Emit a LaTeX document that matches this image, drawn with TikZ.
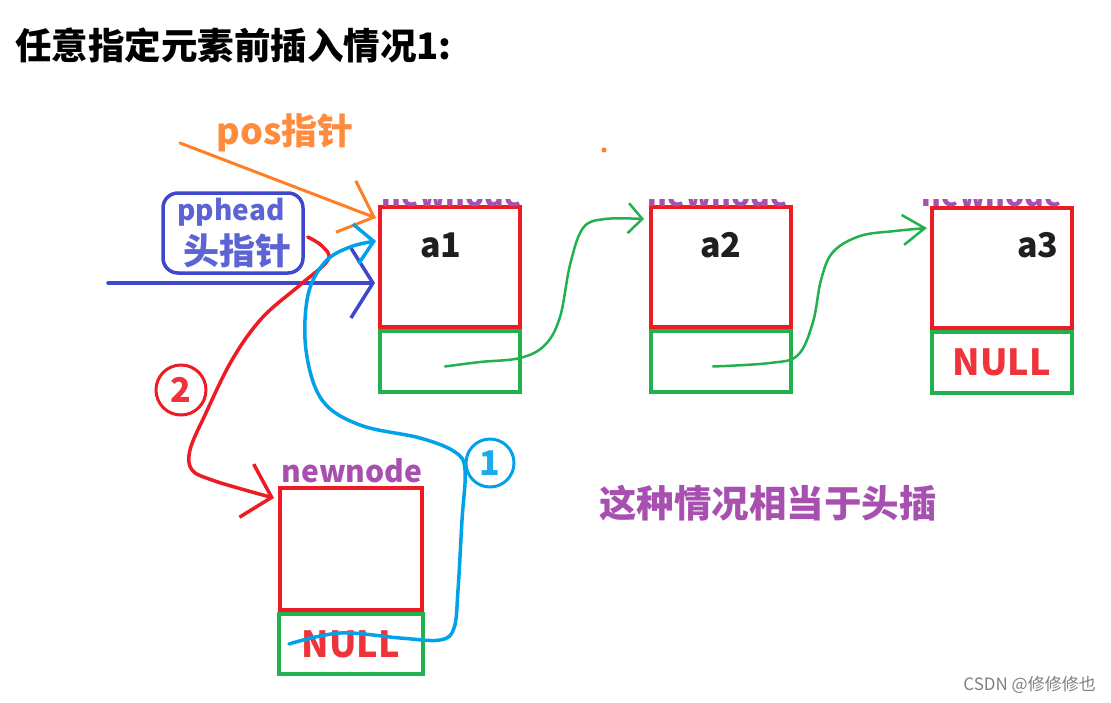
\documentclass[tikz,border=0pt]{standalone}
\usepackage{fontspec}
\newfontfamily\hei{Noto Sans CJK SC}
\usetikzlibrary{arrows.meta,calc}
\definecolor{pred}{RGB}{237,28,36}
\definecolor{pgreen}{RGB}{34,177,76}
\definecolor{pblue}{RGB}{63,72,204}
\definecolor{pcyan}{RGB}{0,162,232}
\definecolor{porange}{RGB}{255,127,39}
\definecolor{ppurple}{RGB}{168,80,176}
\tikzset{every picture/.style = {x=1pt, y=-1pt}}
\tikzset{datum/.style = {draw=pred, line width=4pt, minimum width=140pt, minimum height=120pt, inner sep=0}}
\tikzset{nxt/.style = {draw=pgreen, line width=4pt, minimum width=140pt, minimum height=61pt, inner sep=0, anchor=north, text=pred!90!white, font=\hei\bfseries\fontsize{36}{40}\selectfont}}
\tikzset{val/.style = {inner sep=0, text=black!88, font=\hei\bfseries\fontsize{34}{40}\selectfont}}
\tikzset{nlab/.style = {inner sep=0, anchor=base, text=ppurple, font=\hei\bfseries\fontsize{30}{34}\selectfont}}
\tikzset{link/.style = {draw=pgreen, line width=2.5pt, line cap=round}}
\tikzset{stepmark/.style = {circle, line width=3pt, minimum size=50pt, inner sep=0, font=\hei\bfseries\fontsize{34}{40}\selectfont}}

\begin{document}
\begin{tikzpicture}
  \useasboundingbox[fill=white] (0,0) rectangle (1111,702);
  \node[anchor=west, inner sep=0, font=\hei\bfseries\fontsize{36.5}{40}\selectfont] (title) at (15,45) {任意指定元素前插入情况1:};

  % the list a1 -> a2 -> a3
  \node[datum] (a1) at (450,267) {};
  \node[datum] (a2) at (721,267) {};
  \node[datum] (a3) at (1002,268) {};
  \foreach \n/\x in {1/452, 2/718, 3/992} {
    \begin{scope}
      \clip (\x-70,199.5) rectangle (\x+70,206);
      \node[nlab] (h\n) at (\x,206) {newnode};
    \end{scope}
  }
  \node[nxt] (p1) at (a1.south) {};
  \node[nxt] (p2) at (a2.south) {};
  \node[nxt] (p3) at (a3.south) {NULL};
  \node[val] (v1) at (441,245) {a1};
  \node[val] (v2) at (721,245) {a2};
  \node[val] (v3) at (1038,245) {a3};

  % the new node
  \node[nlab] (nlab) at (352,482) {newnode};
  \node[datum, minimum width=142pt, minimum height=122pt] (nn) at (351,549) {};
  \node[nxt, minimum width=144pt, minimum height=60pt] (nnp) at (nn.south) {NULL};

  % next pointers
  \draw[link, -{Straight Barb[length=14pt,width=30pt]}] plot[smooth, tension=0.6] coordinates {($(p1.center)+(-5,5)$) (480,362) (520,358) (545,345) (560,317) (570,265) (583,228) (605,219) ($(a2.north west)+(-5,14)$)};
  \draw[link, -{Straight Barb[length=22pt,width=30pt]}] plot[smooth, tension=0.6] coordinates {($(p2.center)+(-8,5)$) (770,363) (798,355) (813,322) (821,280) (833,252) (860,236) (895,231) ($(a3.north west)+(-3,22)$)};

  % pos pointer
  \coordinate (pos) at (180,143);
  \node[inner sep=0, text=porange!90!white, font=\hei\bfseries\fontsize{36}{40}\selectfont] (poslab) at (285,133) {pos指针};
  \draw[porange, line width=3pt, line cap=round, -{Straight Barb[length=30pt,width=55pt]}] (pos) -- ($(a1.north west)+(-2,13)$);
  \fill[porange] (604,150) circle (2.5);

  % head pointer
  \node[draw=pblue, rounded corners=15pt, line width=3.5pt, minimum width=140pt, minimum height=80pt, inner sep=0] (pph) at (233,233) {};
  \node[inner sep=0, text=pblue!85!white, font=\hei\bfseries\fontsize{28}{32}\selectfont] (pphtxt) at (231,212) {pphead};
  \node[inner sep=0, text=pblue!85!white, font=\hei\bfseries\fontsize{36}{40}\selectfont] (headtxt) at (237,251) {头指针};
  \coordinate (hs) at (108,283);
  \draw[pblue, line width=3.5pt, line cap=round, -{Straight Barb[length=22pt,width=70pt]}] (hs) -- ($(a1.west)+(-3,16)$);

  % step 2
  \node[stepmark, draw=pred, text=pred!90!white] (m2) at (181,390) {2};
  \draw[pred, line width=3.5pt, line cap=round, -{Straight Barb[length=26pt,width=55pt]}] plot[smooth, tension=0.6] coordinates {($(pph.east)+(3,4)$) (322,246) (328,260) (300,285) (262,318) (232,360) (205,415) (190,450) (192,470) (212,480) (245,490) ($(nn.north west)+(-4,12)$)};

  % step 1
  \node[stepmark, draw=pcyan, text=pcyan!90!white, minimum size=48pt] (m1) at (490,463) {1};
  \draw[pcyan, line width=3.5pt, line cap=round, -{Straight Barb[length=18pt,width=40pt]}] plot[smooth, tension=0.6] coordinates {($(nnp.west)+(12,0)$) (340,633) (400,638) (440,640) (454,628) (458,590) (462,520) (465,470) (455,452) (420,438) (360,425) (322,400) (306,350) (308,295) (325,262) (350,247) ($(a1.north west)+(-2,36)$)};

  \node[inner sep=0, text=ppurple, font=\hei\bfseries\fontsize{37.5}{42}\selectfont] (note) at (768,503) {这种情况相当于头插};
  \node[anchor=east, inner sep=0, text=black!50, font=\hei\fontsize{17}{20}\selectfont] (csdn) at (1096,685) {CSDN @修修修也};
\end{tikzpicture}
\end{document}
